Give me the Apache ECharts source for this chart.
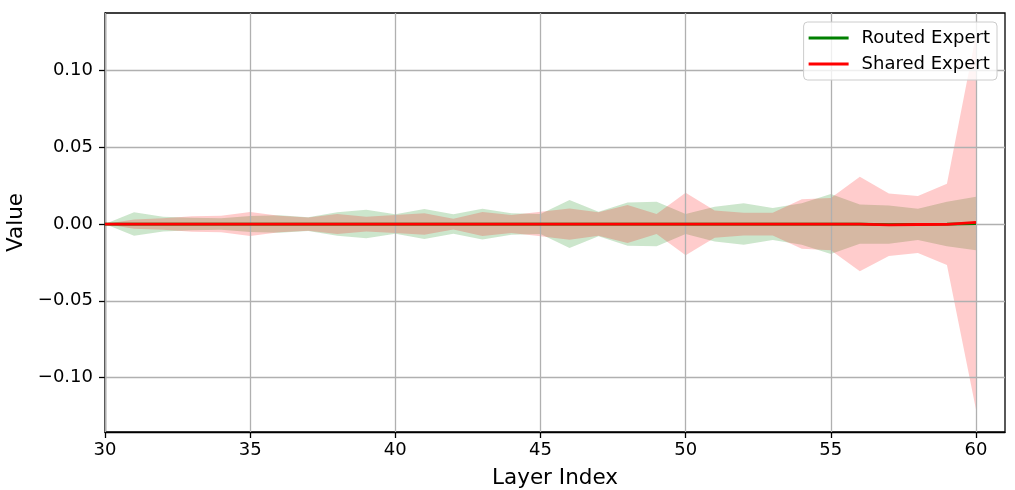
<!DOCTYPE html>
<html>
<head>
<meta charset="utf-8">
<script src="https://cdn.jsdelivr.net/npm/echarts@6/dist/echarts.min.js"></script>
<style>
  html, body { margin: 0; padding: 0; background: #fff; }
  #chart { width: 1015px; height: 490px; }
</style>
</head>
<body>
<div id="chart"></div>
<script>
// layer indices on the x axis
const layers = [30, 31, 32, 33, 34, 35, 36, 37, 38, 39, 40, 41, 42, 43, 44, 45,
  46, 47, 48, 49, 50, 51, 52, 53, 54, 55, 56, 57, 58, 59, 60];

// routed expert: mean and spread per layer
const routedMean = [0, 0, 0, 0, 0, 0, 0, 0, 0, 0, 0, 0, 0, 0, 0, 0,
  0, 0, 0, 0, 0, 0, 0, 0, 0, 0, 0, -0.0004, -0.0002, 0, 0.0003];
const routedStd = [0, 0.0076, 0.0048, 0.0041, 0.0037, 0.0052, 0.0057, 0.0045, 0.0076, 0.0093,
  0.0063, 0.0098, 0.0063, 0.0100, 0.0070, 0.0065, 0.0156, 0.0080, 0.0141, 0.0145,
  0.0065, 0.0113, 0.0135, 0.0104, 0.0135, 0.0195, 0.0128, 0.0125, 0.0102, 0.0145, 0.0174];

// shared expert: mean and spread per layer
const sharedMean = [0, 0, 0, 0, 0, 0, 0, 0, 0, 0, 0, 0, 0, 0, 0, 0,
  0, 0, 0, 0, 0, 0, 0, 0, 0, 0, 0, -0.0005, -0.0003, -0.0002, 0.0011];
const sharedStd = [0, 0.0030, 0.0037, 0.0050, 0.0054, 0.0078, 0.0054, 0.0043, 0.0065, 0.0048,
  0.0059, 0.0070, 0.0035, 0.0078, 0.0059, 0.0080, 0.0102, 0.0076, 0.0124, 0.0065,
  0.0204, 0.0089, 0.0074, 0.0074, 0.0161, 0.0170, 0.0308, 0.0204, 0.0185, 0.0265, 0.1220];

const xTicks = [30, 35, 40, 45, 50, 55, 60];
const yTicks = [-0.1, -0.05, 0, 0.05, 0.1];

const FONT = 'DejaVu Sans';

function line(mean) { return layers.map((x, i) => [x, mean[i]]); }

// one polygon per band: upper edge left to right, lower edge back
function bandSeries(name, mean, std, color) {
  const data = layers.map((x, i) => [x, mean[i] - std[i], mean[i] + std[i]]);
  return {
    name: name, type: 'custom', silent: true, clip: true, z: 1,
    data: data,
    encode: { x: 0, y: [1, 2] },
    renderItem: function (params, api) {
      if (params.dataIndexInside !== 0) return null;
      const n = params.dataInsideLength;
      const top = [], bottom = [];
      for (let i = 0; i < n; i++) {
        const x = api.value(0, i);
        top.push(api.coord([x, api.value(2, i)]));
        bottom.push(api.coord([x, api.value(1, i)]));
      }
      return {
        type: 'polygon',
        shape: { points: top.concat(bottom.reverse()) },
        style: { fill: color, stroke: null }
      };
    }
  };
}

const chart = echarts.init(document.getElementById('chart'), null, { renderer: 'canvas' });

const axisLineStyle = { color: '#000', width: 1.3 };

const option = {
  animation: false,
  backgroundColor: '#ffffff',
  textStyle: { fontFamily: FONT },
  grid: {
    left: 105, right: 10, top: 13, bottom: 58,
    outerBoundsMode: 'none', containLabel: false,
    show: true, borderColor: '#000', borderWidth: 1.3, backgroundColor: 'transparent'
  },
  legend: {
    data: ['Routed Expert', 'Shared Expert'],
    orient: 'vertical',
    right: 18, top: 22,
    itemWidth: 40, itemHeight: 3, itemGap: 8,
    icon: 'rect',
    backgroundColor: 'rgba(255,255,255,0.8)',
    borderColor: '#cccccc', borderWidth: 1, borderRadius: 4,
    padding: [7, 7, 7, 5],
    textStyle: { fontFamily: FONT, fontSize: 18, color: '#000', padding: [0, 0, 0, 8] }
  },
  xAxis: {
    type: 'value', min: 30, max: 61,
    name: 'Layer Index', nameLocation: 'middle', nameGap: 35,
    nameTextStyle: { fontFamily: FONT, fontSize: 21.5, color: '#000' },
    axisLine: { show: true, onZero: false, lineStyle: axisLineStyle },
    axisTick: { show: true, customValues: xTicks, length: 6, lineStyle: axisLineStyle },
    axisLabel: {
      customValues: xTicks, fontFamily: FONT, fontSize: 18, color: '#000', margin: 9,
      formatter: v => String(v)
    },
    splitLine: { show: false }
  },
  yAxis: {
    type: 'value', min: -0.1355, max: 0.1375,
    name: 'Value', nameLocation: 'middle', nameGap: 75,
    nameTextStyle: { fontFamily: FONT, fontSize: 21.5, color: '#000' },
    axisLine: { show: true, onZero: false, lineStyle: axisLineStyle },
    axisTick: { show: true, customValues: yTicks, length: 6, lineStyle: axisLineStyle },
    axisLabel: {
      customValues: yTicks, fontFamily: FONT, fontSize: 18, color: '#000', margin: 12,
      formatter: v => (v < 0 ? '\u2212' : '') + Math.abs(v).toFixed(2)
    },
    splitLine: { show: false }
  },
  series: [
    bandSeries('routedBand', routedMean, routedStd, 'rgba(0,128,0,0.2)'),
    bandSeries('sharedBand', sharedMean, sharedStd, 'rgba(255,0,0,0.2)'),
    // grid lines at the tick values, above the bands and below the lines
    {
      type: 'line', name: 'grid', silent: true, symbol: 'none', data: [], z: 2,
      markLine: {
        silent: true, symbol: 'none', animation: false, z: 2,
        lineStyle: { color: '#b0b0b0', width: 1.3, type: 'solid' },
        label: { show: false },
        emphasis: { disabled: true },
        data: xTicks.map(v => ({ xAxis: v })).concat(yTicks.map(v => ({ yAxis: v })))
      }
    },
    {
      name: 'Routed Expert', type: 'line', data: line(routedMean), symbol: 'none',
      color: '#008000', lineStyle: { color: '#008000', width: 2.8 }, z: 6
    },
    {
      name: 'Shared Expert', type: 'line', data: line(sharedMean), symbol: 'none',
      color: '#ff0000', lineStyle: { color: '#ff0000', width: 2.8 }, z: 7
    }
  ]
};

chart.setOption(option);
</script>
</body>
</html>
